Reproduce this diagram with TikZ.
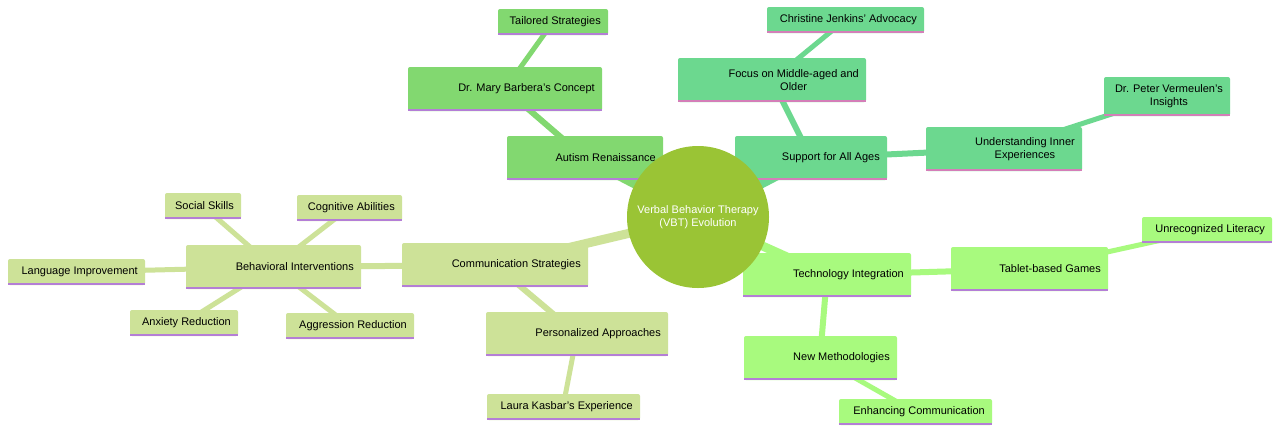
\documentclass[tikz,border=0pt]{standalone}
\usepackage{fontspec}
\setmainfont{Liberation Sans}
\usetikzlibrary{backgrounds}
\definecolor{cA}{HTML}{82D870}
\definecolor{cB}{HTML}{6CD88F}
\definecolor{cC}{HTML}{A8FA7E}
\definecolor{cD}{HTML}{CDE298}
\definecolor{cR}{HTML}{9AC435}
\definecolor{ulA}{HTML}{B47ED6}
\definecolor{ulB}{HTML}{D47EB8}
\begin{document}
\begin{tikzpicture}[x=1pt,y=-1pt,font=\fontsize{11}{13}\selectfont,
  e1/.style={line width=9pt},e2/.style={line width=6pt},e3/.style={line width=5pt}]
\useasboundingbox[fill=white] (0,0) rectangle (1280,432);
% box macro: name, x1,y1,x2,y2, fill, underline, text
\newcommand\bx[8]{%
  \fill[#6,rounded corners=2pt] (#2,#3) rectangle (#4,#5);
  \draw[#7,line width=2pt] (#2,#5-1) -- (#4,#5-1);
  \coordinate (#1) at ({(#2+#4)/2},{(#3+#5)/2});
  \node[anchor=east,align=center,inner sep=0pt] (#1t) at (#4-7,{(#3+#5)/2}) {#8};}
\coordinate (root) at (698,217);
\begin{scope}[on background layer]
\end{scope}
% edges first
\draw[e1,cA] (root) -- (585,158);
\draw[e2,cA] (585,158) -- (505,89);
\draw[e3,cA] (505,89) -- (553,22);
\draw[e1,cB] (root) -- (811,158);
\draw[e2,cB] (811,158) -- (772,80);
\draw[e3,cB] (772,80) -- (845,20);
\draw[e2,cB] (811,158) -- (1004,149);
\draw[e3,cB] (1004,149) -- (1167,96);
\draw[e1,cC] (root) -- (827,275);
\draw[e2,cC] (827,275) -- (1030,269);
\draw[e3,cC] (1030,269) -- (1207,230);
\draw[e2,cC] (827,275) -- (820,358);
\draw[e3,cC] (820,358) -- (915,412);
\draw[e1,cD] (root) -- (495,265);
\draw[e2,cD] (495,265) -- (273,267);
\draw[e3,cD] (273,267) -- (203,206);
\draw[e3,cD] (273,267) -- (349,208);
\draw[e3,cD] (273,267) -- (76,272);
\draw[e3,cD] (273,267) -- (184,323);
\draw[e3,cD] (273,267) -- (350,326);
\draw[e2,cD] (495,265) -- (577,334);
\draw[e3,cD] (577,334) -- (563,407);
% boxes
\bx{a}{507}{136}{663}{180}{cA}{ulA}{Autism Renaissance}
\bx{a1}{408}{67}{602}{111}{cA}{ulA}{Dr. Mary Barbera's Concept}
\bx{a2}{498}{9}{608}{35}{cA}{ulA}{Tailored Strategies}
\bx{b}{735}{136}{887}{180}{cB}{ulB}{Support for All Ages}
\bx{b1}{678}{58}{866}{102}{cB}{ulB}{Focus on Middle-aged and\\Older}
\bx{b2}{767}{7}{924}{33}{cB}{ulB}{Christine Jenkins' Advocacy}
\bx{b3}{926}{127}{1082}{171}{cB}{ulB}{Understanding Inner\\Experiences}
\bx{b4}{1104}{77}{1230}{116}{cB}{ulB}{Dr. Peter Vermeulen's\\Insights}
\bx{c}{743}{253}{911}{297}{cC}{ulA}{Technology Integration}
\bx{c1}{951}{247}{1108}{291}{cC}{ulA}{Tablet-based Games}
\bx{c2}{1142}{217}{1272}{243}{cC}{ulA}{Unrecognized Literacy}
\bx{c3}{744}{336}{897}{380}{cC}{ulA}{New Methodologies}
\bx{c4}{839}{399}{992}{425}{cC}{ulA}{Enhancing Communication}
\bx{d}{402}{243}{588}{287}{cD}{ulA}{Communication Strategies}
\bx{d1}{186}{245}{361}{289}{cD}{ulA}{Behavioral Interventions}
\bx{d2}{165}{193}{241}{219}{cD}{ulA}{Social Skills}
\bx{d3}{297}{195}{402}{221}{cD}{ulA}{Cognitive Abilities}
\bx{d4}{8}{259}{145}{285}{cD}{ulA}{Language Improvement}
\bx{d5}{130}{310}{238}{336}{cD}{ulA}{Anxiety Reduction}
\bx{d6}{286}{313}{414}{339}{cD}{ulA}{Aggression Reduction}
\bx{d7}{486}{312}{668}{356}{cD}{ulA}{Personalized Approaches}
\bx{d8}{487}{394}{640}{420}{cD}{ulA}{Laura Kasbar's Experience}
\node[circle,fill=cR,minimum size=142pt,inner sep=0pt,text=white,align=center] (r) at (root) {Verbal Behavior Therapy\\(VBT) Evolution};
\end{tikzpicture}
\end{document}
